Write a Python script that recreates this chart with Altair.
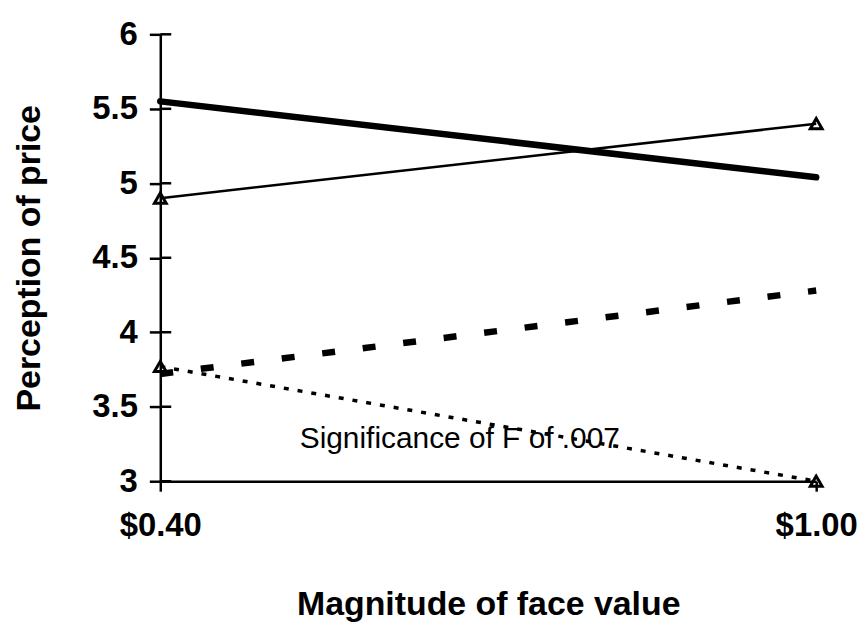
import altair as alt
import pandas as pd

# ---- data ----
x_values = [0.40, 1.00]
x_tick_labels = ["$0.40", "$1.00"]
y_ticks = [3, 3.5, 4, 4.5, 5, 5.5, 6]

thick_solid = [5.55, 5.04]
thin_solid_triangles = [4.90, 5.40]
thick_dashed = [3.72, 4.28]
thin_dotted_triangles = [3.77, 3.00]

annotation_text = ["Significance of F of .007"]
annotation_x = [0.674]
annotation_y = [3.28]

FONT = "Liberation Sans"


def frame(vals):
    return pd.DataFrame({"x": x_values, "y": vals})


xscale = alt.Scale(domain=[0.4, 1.0], nice=False, zero=False)
yscale = alt.Scale(domain=[3, 6], nice=False, zero=False)

label_expr = "datum.value < 0.7 ? '" + x_tick_labels[0] + "' : '" + x_tick_labels[1] + "'"

x_enc = alt.X(
    "x:Q",
    scale=xscale,
    axis=alt.Axis(
        title="Magnitude of face value",
        values=x_values,
        labelExpr=label_expr,
        grid=False,
        domainColor="black",
        domainWidth=2.5,
        tickColor="black",
        tickWidth=2.5,
        tickSize=10,
        labelFont=FONT,
        labelFontSize=33,
        labelFontWeight="bold",
        labelColor="black",
        labelPadding=19,
        titleFont=FONT,
        titleFontSize=34,
        titleFontWeight="bold",
        titleColor="black",
        titlePadding=45,
        labelFlush=False,
    ),
)

y_enc = alt.Y(
    "y:Q",
    scale=yscale,
    axis=alt.Axis(
        title="Perception of price",
        values=y_ticks,
        format="~g",
        grid=False,
        domainColor="black",
        domainWidth=2.5,
        tickColor="black",
        tickWidth=2.5,
        tickSize=11,
        labelFont=FONT,
        labelFontSize=33,
        labelFontWeight="bold",
        labelColor="black",
        labelPadding=12,
        titleFont=FONT,
        titleFontSize=34,
        titleFontWeight="bold",
        titleColor="black",
        titlePadding=45,
    ),
)

# inner half of the crossing y ticks
tick_df = pd.DataFrame({"y": y_ticks})
inner_ticks = alt.Chart(tick_df).mark_rule(color="black", strokeWidth=2.5).encode(
    y=alt.Y("y:Q", scale=yscale),
    x=alt.value(0),
    x2=alt.value(11),
)

line_thick = alt.Chart(frame(thick_solid)).mark_line(
    color="black", strokeWidth=6.5, strokeCap="round"
).encode(x=x_enc, y=y_enc)

line_thin = alt.Chart(frame(thin_solid_triangles)).mark_line(
    color="black", strokeWidth=2.5
).encode(x="x:Q", y="y:Q")

line_dashed = alt.Chart(frame(thick_dashed)).mark_line(
    color="black", strokeWidth=6.5, strokeDash=[13, 28]
).encode(x="x:Q", y="y:Q")

line_dotted = alt.Chart(frame(thin_dotted_triangles)).mark_line(
    color="black", strokeWidth=3.5, strokeDash=[5, 9]
).encode(x="x:Q", y="y:Q")

tri_df = pd.concat([frame(thin_solid_triangles), frame(thin_dotted_triangles)])
triangles = alt.Chart(tri_df).mark_point(
    shape="triangle-up", filled=False, color="black", strokeWidth=3, size=140, opacity=1
).encode(x="x:Q", y="y:Q")

ann_df = pd.DataFrame({"x": annotation_x, "y": annotation_y, "t": annotation_text})
annotation = alt.Chart(ann_df).mark_text(
    font=FONT, fontSize=30, color="black", align="center", baseline="middle"
).encode(x="x:Q", y="y:Q", text="t:N")

chart = (
    alt.layer(line_thick, line_thin, line_dashed, line_dotted, triangles, annotation, inner_ticks)
    .properties(
        width=659,
        height=449,
        autosize=alt.AutoSizeParams(type="none"),
        padding={"left": 153, "top": 25, "right": 43, "bottom": 140},
        background="white",
    )
    .configure_view(stroke=None)
)

chart.save("out.html", embed_options={"renderer": "svg", "actions": False})
